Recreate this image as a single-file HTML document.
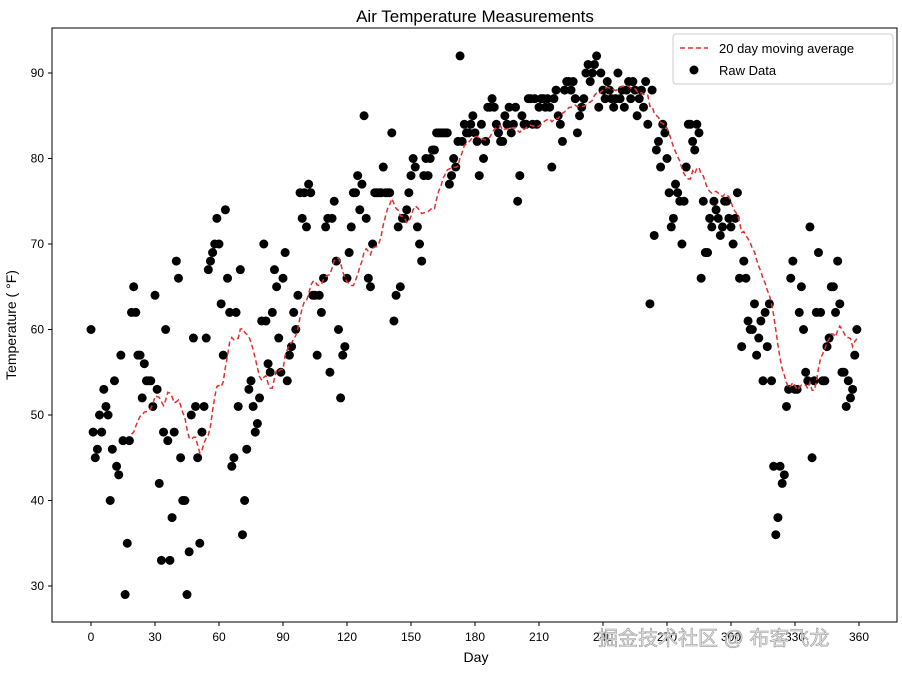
<!DOCTYPE html>
<html><head><meta charset="utf-8"><style>
body{margin:0;background:#fff;}
svg text{font-family:"Liberation Sans","DejaVu Sans",sans-serif;}
</style></head><body>
<svg id="chart" width="902" height="672" viewBox="0 0 902 672" xmlns="http://www.w3.org/2000/svg">
<rect width="902" height="672" fill="#fff"/>
<text x="475" y="22" font-size="17" text-anchor="middle" fill="#000">Air Temperature Measurements</text>
<g id="marks"></g>
<g id="axes"></g>
<rect x="52" y="28" width="845" height="594" fill="none" stroke="#000" stroke-width="1"/>
<text x="476" y="662" font-size="14" text-anchor="middle">Day</text>
<text transform="translate(16,325) rotate(-90)" font-size="14" text-anchor="middle">Temperature ( °F)</text>
<g>
<rect x="673" y="34" width="220" height="50" rx="3" fill="#fff" stroke="#ccc"/>
<line x1="680" y1="48" x2="708" y2="48" stroke="#e03030" stroke-width="1.5" stroke-dasharray="5,3"/>
<text x="719" y="53" font-size="13">20 day moving average</text>
<circle cx="694" cy="70" r="4.5" fill="#000"/>
<text x="719" y="75" font-size="13">Raw Data</text>
</g>
<text x="598" y="645" font-size="20" fill="#e8e8e8" stroke="#999" stroke-width="0.6" font-family="Liberation Sans, Noto Sans CJK SC, sans-serif">掘金技术社区 @ 布客飞龙</text>
</svg>
<script>
const temps = [
60,48,45,46,50,48,53,51,50,40,46,54,44,43,57,47,29,35,47,62,
65,62,57,57,52,56,54,54,54,51,64,53,42,33,48,60,47,33,38,48,
68,66,45,40,40,29,34,50,59,51,45,35,48,51,59,67,68,69,70,73,
70,63,57,74,66,62,44,45,62,51,67,36,40,46,53,54,51,48,49,52,
61,70,61,56,55,62,67,65,59,55,66,69,54,57,58,62,60,64,76,73,
76,72,77,76,64,64,57,64,62,66,72,73,55,73,75,68,60,52,57,58,
66,69,72,76,76,78,74,77,85,73,66,65,70,76,76,76,76,79,76,76,
76,83,61,64,72,65,73,73,74,76,78,80,79,72,70,68,78,80,78,80,
81,81,83,83,83,83,83,83,77,78,80,79,82,92,82,84,83,83,84,85,
83,82,78,84,80,82,86,86,87,86,84,83,82,82,85,84,86,83,84,86,
75,78,85,84,84,87,87,84,87,84,86,87,87,86,87,86,79,87,88,85,
84,82,88,89,89,88,89,87,83,85,
86,87,90,91,89,90,91,92,86,90,
88,87,89,88,87,86,87,90,87,88,
86,88,89,87,89,88,85,87,88,86,
89,84,63,88,71,81,82,79,84,83,
80,76,72,73,77,76,75,70,75,79,
84,84,82,81,84,83,66,75,69,69,
73,72,75,74,73,71,72,75,75,73,
72,70,73,76,66,58,68,66,61,60,
60,63,57,59,61,54,62,58,63,54,
44,36,38,44,42,43,51,53,66,68,
53,53,62,65,60,55,54,72,45,54,
62,69,62,54,54,58,59,65,65,62,
68,63,55,55,51,54,52,53,57,60
];
const xTicks = [0,30,60,90,120,150,180,210,240,270,300,330,360];
const yTicks = [30,40,50,60,70,80,90];
const windowSize = 20;

const NS='http://www.w3.org/2000/svg';
const xs = d => 91 + (d/30)*64;
const ys = v => 73 + (90 - v)*8.55;
const marks=document.getElementById('marks');
const axes=document.getElementById('axes');

temps.forEach((v,i)=>{
  const c=document.createElementNS(NS,'circle');
  c.setAttribute('cx',xs(i));c.setAttribute('cy',ys(v));c.setAttribute('r',4.5);c.setAttribute('fill','#000');
  
  
  marks.appendChild(c);
});
let pts=[];
for(let i=windowSize-1;i<temps.length;i++){
  let s=0;for(let j=i-windowSize+1;j<=i;j++)s+=temps[j];
  pts.push(xs(i).toFixed(1)+','+ys(s/windowSize).toFixed(1));
}
const pl=document.createElementNS(NS,'polyline');
pl.setAttribute('points',pts.join(' '));pl.setAttribute('fill','none');pl.setAttribute('stroke','#e03030');
pl.setAttribute('stroke-width','1.5');pl.setAttribute('stroke-dasharray','5,3');


marks.appendChild(pl);

xTicks.forEach(t=>{
  const l=document.createElementNS(NS,'line');
  l.setAttribute('x1',xs(t));l.setAttribute('x2',xs(t));l.setAttribute('y1',622);l.setAttribute('y2',626);l.setAttribute('stroke','#000');
  
  
  axes.appendChild(l);
  const tx=document.createElementNS(NS,'text');
  tx.setAttribute('x',xs(t));tx.setAttribute('y',641);tx.setAttribute('font-size','12');tx.setAttribute('text-anchor','middle');
  tx.textContent=t;
  
  
  axes.appendChild(tx);
});
yTicks.forEach(t=>{
  const l=document.createElementNS(NS,'line');
  l.setAttribute('x1',48);l.setAttribute('x2',52);l.setAttribute('y1',ys(t));l.setAttribute('y2',ys(t));l.setAttribute('stroke','#000');
  
  
  axes.appendChild(l);
  const tx=document.createElementNS(NS,'text');
  tx.setAttribute('x',44);tx.setAttribute('y',ys(t)+4);tx.setAttribute('font-size','12');tx.setAttribute('text-anchor','end');
  tx.textContent=t;
  
  
  axes.appendChild(tx);
});
</script>
</body></html>
